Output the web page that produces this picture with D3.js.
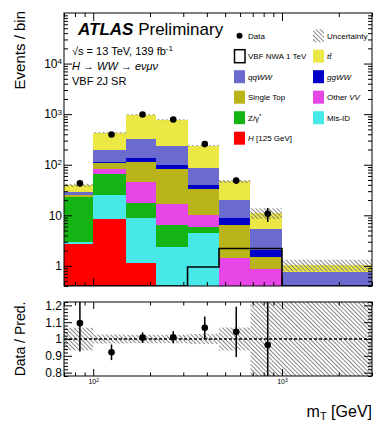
<!DOCTYPE html>
<html>
<head>
<meta charset="utf-8">
<script src="https://cdn.jsdelivr.net/npm/d3@7"></script>
<style>
  body { margin: 0; background: #fff; }
  svg { font-family: "Liberation Sans", Arial, sans-serif; }
</style>
</head>
<body>
<svg id="chart" width="390" height="430"></svg>
<script>
// bin edges of m_T [GeV]
var binEdges = [70, 100, 150, 215, 316, 464, 681, 1000, 3000];

// predicted events per bin, stacked from the bottom up
var higgs125  = [2.7, 8.4, 1.13, 0.2, 0.15, 0.05, 0.02, 0];
var misId     = [0.3, 16.3, 7.9, 2.2, 4.25, 0.15, 0.08, 0.05];
var zGamma    = [19.5, 41.7, 8.1, 3.9, 1.4, 0.1, 0.05, 0.02];
var otherVV   = [0.4, 17, 27.5, 10.4, 4.4, 1.12, 0.71, 0.13];
var singleTop = [1.8, 24.6, 68.4, 65.3, 22.8, 5.1, 0.67, 0.1];
var ggWW      = [0.4, 7, 23, 16.7, 5.9, 2.3, 0.54, 0.05];
var qqWW      = [3.7, 77, 191, 132, 47, 11.5, 3.33, 0.42];
var ttbar     = [10.5, 238, 650, 547, 154, 26.4, 5.7, 0.28];

// signal (not stacked)
var vbfNwa = [0, 0, 0, 0, 0.95, 2.2, 2.2, 0];

// observed data and its error
var dataYield = [43, 396, 985, 786, 256, 48.7, 10.7];
var dataErr   = [6.6, 20, 31, 28, 16, 7, 3.3];

// relative uncertainty of the prediction
var relUnc = [0.067, 0.027, 0.025, 0.025, 0.03, 0.068, 0.24, 0.26];

var yMajorTicks = [1, 10, 100, 1000, 10000];
var ratioTicks = [0.8, 0.9, 1, 1.1, 1.2];
var xMajorTicks = [100, 1000];

var sampleKeys = ['higgs125', 'misId', 'zGamma', 'otherVV', 'singleTop', 'ggWW', 'qqWW', 'ttbar'];
var sampleColor = {
  higgs125: '#ff0000',
  misId: '#48e8e8',
  zGamma: '#14b414',
  otherVV: '#e646e6',
  singleTop: '#b9b41a',
  ggWW: '#0000c8',
  qqWW: '#6b6bcf',
  ttbar: '#ebe846'
};

var svg = d3.select('#chart');

// frames
var left = 64, right = 372;
var main = { top: 13, bottom: 286 };
var rat = { top: 302, bottom: 376 };

var x = d3.scaleLog().domain([binEdges[0], binEdges[binEdges.length - 1]]).range([left, right]);
var y = d3.scaleLog().domain([0.4, 1e5]).range([main.bottom, main.top]).clamp(true);
var yr = d3.scaleLinear().domain([0.78, 1.22]).range([rat.bottom, rat.top]);

function yv(v) { return y(Math.max(v, 1e-6)); }

var rows = binEdges.slice(0, -1).map(function(e, i) {
  return {
    x0: e, x1: binEdges[i + 1],
    higgs125: higgs125[i], misId: misId[i], zGamma: zGamma[i], otherVV: otherVV[i],
    singleTop: singleTop[i], ggWW: ggWW[i], qqWW: qqWW[i], ttbar: ttbar[i]
  };
});
var totals = rows.map(function(r) {
  return d3.sum(sampleKeys, function(k) { return r[k]; });
});
var stacked = d3.stack().keys(sampleKeys)(rows);

// hatch pattern
var defs = svg.append('defs');
defs.append('pattern')
  .attr('id', 'hatch')
  .attr('patternUnits', 'userSpaceOnUse')
  .attr('width', 3).attr('height', 3)
  .attr('patternTransform', 'rotate(-45)')
  .append('line')
  .attr('x1', 0.5).attr('y1', 0).attr('x2', 0.5).attr('y2', 3)
  .attr('stroke', '#7a7a7a').attr('stroke-width', 0.9);

defs.append('clipPath').attr('id', 'clipMain')
  .append('rect').attr('x', left).attr('y', main.top)
  .attr('width', right - left).attr('height', main.bottom - main.top);
defs.append('clipPath').attr('id', 'clipRatio')
  .append('rect').attr('x', left).attr('y', rat.top)
  .attr('width', right - left).attr('height', rat.bottom - rat.top);

// ---- main panel ----
var gMain = svg.append('g').attr('clip-path', 'url(#clipMain)');

gMain.selectAll('g.sample')
  .data(stacked)
  .enter()
  .append('g')
  .attr('class', 'sample')
  .attr('fill', function(s) { return sampleColor[s.key]; })
  .selectAll('rect')
  .data(function(s) { return s; })
  .enter()
  .append('rect')
  .attr('shape-rendering', 'crispEdges')
  .attr('x', function(d) { return x(d.data.x0); })
  .attr('width', function(d) { return x(d.data.x1) - x(d.data.x0); })
  .attr('y', function(d) { return yv(d[1]); })
  .attr('height', function(d) { return yv(d[0]) - yv(d[1]); });

// uncertainty band
gMain.selectAll('rect.unc')
  .data(rows)
  .enter()
  .append('rect')
  .attr('class', 'unc')
  .attr('x', function(d) { return x(d.x0); })
  .attr('width', function(d) { return x(d.x1) - x(d.x0); })
  .attr('y', function(d, i) { return yv(totals[i] * (1 + relUnc[i])); })
  .attr('height', function(d, i) { return yv(totals[i] * (1 - relUnc[i])) - yv(totals[i] * (1 + relUnc[i])); })
  .attr('fill', 'url(#hatch)');

// signal outline
var nwaPts = [[binEdges[0], 1e-6]];
rows.forEach(function(r, i) {
  nwaPts.push([r.x0, vbfNwa[i]]);
  nwaPts.push([r.x1, vbfNwa[i]]);
});
gMain.append('path')
  .datum(nwaPts)
  .attr('fill', 'none')
  .attr('stroke', '#000')
  .attr('stroke-width', 1.6)
  .attr('d', d3.line().x(function(d) { return x(d[0]); }).y(function(d) { return yv(d[1]); }));

// data points
var centers = dataYield.map(function(d, i) { return (binEdges[i] + binEdges[i + 1]) / 2; });
var gData = gMain.selectAll('g.data')
  .data(dataYield)
  .enter()
  .append('g')
  .attr('class', 'data');
gData.append('line')
  .attr('x1', function(d, i) { return x(centers[i]); })
  .attr('x2', function(d, i) { return x(centers[i]); })
  .attr('y1', function(d, i) { return yv(d + dataErr[i]); })
  .attr('y2', function(d, i) { return yv(d - dataErr[i]); })
  .attr('stroke', '#000').attr('stroke-width', 1.5);
gData.append('circle')
  .attr('cx', function(d, i) { return x(centers[i]); })
  .attr('cy', function(d) { return yv(d); })
  .attr('r', 3.3)
  .attr('fill', '#000');

// ---- ratio panel ----
var gRat = svg.append('g').attr('clip-path', 'url(#clipRatio)');
gRat.selectAll('rect.unc')
  .data(rows)
  .enter()
  .append('rect')
  .attr('x', function(d) { return x(d.x0); })
  .attr('width', function(d) { return x(d.x1) - x(d.x0); })
  .attr('y', function(d, i) { return yr(1 + relUnc[i]); })
  .attr('height', function(d, i) { return yr(1 - relUnc[i]) - yr(1 + relUnc[i]); })
  .attr('fill', 'url(#hatch)');
gRat.append('line')
  .attr('x1', left).attr('x2', right)
  .attr('y1', yr(1)).attr('y2', yr(1))
  .attr('stroke', '#000').attr('stroke-width', 1.3)
  .attr('stroke-dasharray', '3,2');
var gRatPt = gRat.selectAll('g.pt')
  .data(dataYield)
  .enter()
  .append('g');
gRatPt.append('line')
  .attr('x1', function(d, i) { return x(centers[i]); })
  .attr('x2', function(d, i) { return x(centers[i]); })
  .attr('y1', function(d, i) { return yr((d + dataErr[i]) / totals[i]); })
  .attr('y2', function(d, i) { return yr((d - dataErr[i]) / totals[i]); })
  .attr('stroke', '#000').attr('stroke-width', 1.5);
gRatPt.append('circle')
  .attr('cx', function(d, i) { return x(centers[i]); })
  .attr('cy', function(d, i) { return yr(d / totals[i]); })
  .attr('r', 3.3)
  .attr('fill', '#000');

// ---- axes (ROOT style, ticks inside, mirrored) ----
function minorLog(lo, hi) {
  var out = [];
  for (var p = Math.floor(Math.log10(lo)); p <= Math.ceil(Math.log10(hi)); p++) {
    for (var m = 2; m <= 9; m++) {
      var v = m * Math.pow(10, p);
      if (v >= lo && v <= hi) out.push(v);
    }
  }
  return out;
}
var xMinor = minorLog(binEdges[0], binEdges[binEdges.length - 1]);
var yMinor = minorLog(0.4, 1e5);
var rMinor = d3.range(0.78, 1.2201, 0.02).filter(function(v) {
  return ratioTicks.every(function(t) { return Math.abs(t - v) > 1e-6; });
});

function drawAxis(axis, tx, ty) {
  var g = svg.append('g').attr('transform', 'translate(' + tx + ',' + ty + ')').call(axis);
  g.select('.domain').remove();
  g.selectAll('line').attr('stroke', '#000');
  return g;
}
function noLabel() { return ''; }

// main x ticks (bottom / top)
drawAxis(d3.axisBottom(x).tickValues(xMajorTicks).tickSize(-8).tickFormat(noLabel), 0, main.bottom);
drawAxis(d3.axisBottom(x).tickValues(xMinor).tickSize(-4).tickFormat(noLabel), 0, main.bottom);
drawAxis(d3.axisTop(x).tickValues(xMajorTicks).tickSize(-8).tickFormat(noLabel), 0, main.top);
drawAxis(d3.axisTop(x).tickValues(xMinor).tickSize(-4).tickFormat(noLabel), 0, main.top);

// main y ticks
var yLab = drawAxis(d3.axisLeft(y).tickValues(yMajorTicks).tickSize(-8).tickPadding(2), left, 0);
drawAxis(d3.axisLeft(y).tickValues(yMinor).tickSize(-4).tickFormat(noLabel), left, 0);
drawAxis(d3.axisRight(y).tickValues(yMajorTicks).tickSize(-8).tickFormat(noLabel), right, 0);
drawAxis(d3.axisRight(y).tickValues(yMinor).tickSize(-4).tickFormat(noLabel), right, 0);

yLab.selectAll('text')
  .attr('font-size', 12)
  .attr('font-family', null)
  .attr('fill', '#000')
  .text(null)
  .each(function(d) {
    var t = d3.select(this);
    var p = Math.round(Math.log10(d));
    if (p === 0) { t.text('1'); return; }
    t.append('tspan').text('10');
    if (p > 1) {
      t.append('tspan').attr('dy', '-0.45em').attr('font-size', 8).text(p);
    }
  });

// ratio x ticks
var xLab = drawAxis(d3.axisBottom(x).tickValues(xMajorTicks).tickSize(-7).tickPadding(3), 0, rat.bottom);
drawAxis(d3.axisBottom(x).tickValues(xMinor).tickSize(-3.5).tickFormat(noLabel), 0, rat.bottom);
drawAxis(d3.axisTop(x).tickValues(xMajorTicks).tickSize(-7).tickFormat(noLabel), 0, rat.top);
drawAxis(d3.axisTop(x).tickValues(xMinor).tickSize(-3.5).tickFormat(noLabel), 0, rat.top);
xLab.selectAll('text')
  .attr('font-size', 7)
  .attr('font-family', null)
  .attr('fill', '#000')
  .text(null)
  .each(function(d) {
    var t = d3.select(this);
    t.append('tspan').text('10');
    t.append('tspan').attr('dy', '-0.4em').attr('font-size', 5).text(Math.round(Math.log10(d)));
  });

// ratio y ticks
var rLab = drawAxis(d3.axisLeft(yr).tickValues(ratioTicks).tickSize(-8).tickPadding(2)
  .tickFormat(function(d) { return d === 1 ? '1' : d3.format('.1f')(d); }), left, 0);
drawAxis(d3.axisLeft(yr).tickValues(rMinor).tickSize(-4).tickFormat(noLabel), left, 0);
drawAxis(d3.axisRight(yr).tickValues(ratioTicks).tickSize(-8).tickFormat(noLabel), right, 0);
drawAxis(d3.axisRight(yr).tickValues(rMinor).tickSize(-4).tickFormat(noLabel), right, 0);
rLab.selectAll('text').attr('font-size', 12).attr('font-family', null).attr('fill', '#000');

// frames
[main, rat].forEach(function(p) {
  svg.append('rect')
    .attr('x', left).attr('y', p.top)
    .attr('width', right - left).attr('height', p.bottom - p.top)
    .attr('fill', 'none').attr('stroke', '#000').attr('stroke-width', 1);
});

// axis titles
svg.append('text')
  .attr('transform', 'translate(25,11) rotate(-90)')
  .attr('text-anchor', 'end')
  .attr('font-size', 15)
  .text('Events / bin');
svg.append('text')
  .attr('transform', 'translate(25,' + yr(1) + ') rotate(-90)')
  .attr('text-anchor', 'middle')
  .attr('font-size', 14)
  .text('Data / Pred.');
var xt = svg.append('text')
  .attr('x', right).attr('y', 417)
  .attr('text-anchor', 'end')
  .attr('font-size', 16);
xt.append('tspan').text('m');
xt.append('tspan').attr('dy', 3).attr('font-size', 11).text('T');
xt.append('tspan').attr('dy', -3).text(' [GeV]');

// ATLAS label
var atl = svg.append('text').attr('x', 78).attr('y', 35).attr('font-size', 17);
atl.append('tspan').attr('font-weight', 'bold').attr('font-style', 'italic').text('ATLAS');
atl.append('tspan').text(' Preliminary');

var l1 = svg.append('text').attr('x', 72).attr('y', 55).attr('font-size', 11);
l1.append('tspan').text('\u221As = 13 TeV, 139 fb');
l1.append('tspan').attr('dy', -4).attr('font-size', 8).text('-1');
svg.append('text').attr('x', 72).attr('y', 70).attr('font-size', 11)
  .attr('font-style', 'italic')
  .text('H \u2192 WW \u2192 e\u03BD\u03BC\u03BD');
svg.append('text').attr('x', 72).attr('y', 85).attr('font-size', 11)
  .text('VBF 2J SR');

// ---- legend ----
var legendItems = [
  { type: 'data', label: [['Data']] },
  { type: 'unc', label: [['Uncertainty']] },
  { type: 'sig', label: [['VBF NWA 1 TeV']] },
  { type: 'ttbar', label: [['t', 'i'], ['t\u0304', 'i']] },
  { type: 'qqWW', label: [['qqWW', 'i']] },
  { type: 'ggWW', label: [['ggWW', 'i']] },
  { type: 'singleTop', label: [['Single Top']] },
  { type: 'otherVV', label: [['Other '], ['VV', 'i']] },
  { type: 'zGamma', label: [['Z/\u03B3'], ['*', 'sup']] },
  { type: 'misId', label: [['Mis-ID']] },
  { type: 'higgs125', label: [['H', 'i'], [' [125 GeV]']] }
];

var leg = svg.selectAll('g.leg')
  .data(legendItems)
  .enter()
  .append('g')
  .attr('class', 'leg')
  .attr('transform', function(d, i) {
    var col = i % 2, row = Math.floor(i / 2);
    return 'translate(' + (col ? 313 : 234) + ',' + (35.7 + row * 20.5) + ')';
  });

leg.each(function(d) {
  var g = d3.select(this);
  if (d.type === 'data') {
    g.append('circle').attr('cx', 5.5).attr('cy', 0).attr('r', 3).attr('fill', '#000');
  } else if (d.type === 'unc') {
    g.append('rect').attr('x', 0).attr('y', -6.5).attr('width', 11).attr('height', 13).attr('fill', 'url(#hatch)');
  } else if (d.type === 'sig') {
    g.append('rect').attr('x', 0.5).attr('y', -6.5).attr('width', 10.5).attr('height', 13)
      .attr('fill', '#fff').attr('stroke', '#000').attr('stroke-width', 1.5);
  } else {
    g.append('rect').attr('x', 0).attr('y', -6.5).attr('width', 11).attr('height', 13)
      .attr('fill', sampleColor[d.type]);
  }
  var t = g.append('text').attr('x', 14).attr('y', 3).attr('font-size', 8);
  d.label.forEach(function(p) {
    var s = t.append('tspan').text(p[0]);
    if (p[1] === 'i') s.attr('font-style', 'italic');
    if (p[1] === 'sup') s.attr('dy', -3).attr('font-size', 6);
  });
});
</script>
</body>
</html>
